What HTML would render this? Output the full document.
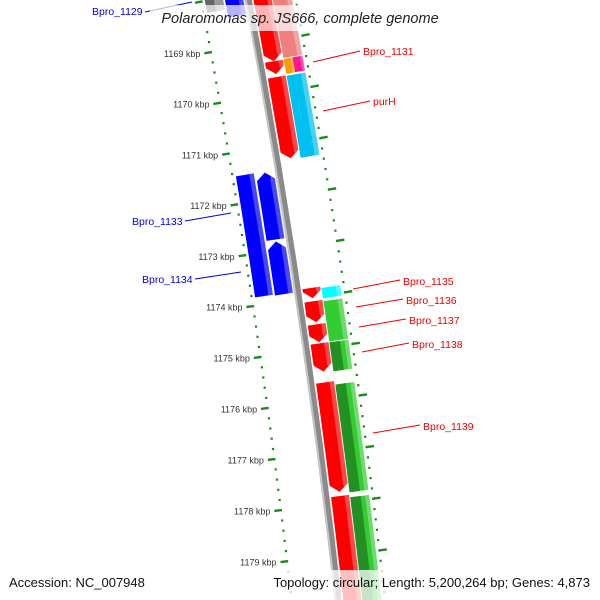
<!DOCTYPE html>
<html><head><meta charset="utf-8"><style>
html,body{margin:0;padding:0;background:#fff;width:600px;height:600px;overflow:hidden;}
svg{display:block;overflow:hidden;}
text{font-family:"Liberation Sans",sans-serif;}
</style></head><body>
<svg id="map" width="600" height="600" viewBox="0 0 600 600" xmlns="http://www.w3.org/2000/svg">
<g id="ticks"></g>
<g id="backbone"></g>
<g id="features"></g>
<g id="labels"></g>
<rect x="150" y="5" width="300" height="26" fill="rgba(255,255,255,0.7)"/>
<text x="300" y="23" text-anchor="middle" font-size="14.5" font-style="italic" fill="#222">Polaromonas sp. JS666, complete genome</text>
<rect x="256" y="570" width="344" height="30" fill="rgba(255,255,255,0.75)"/>
<rect x="0" y="570" width="150" height="30" fill="rgba(255,255,255,0.75)"/>
<text x="9" y="587" font-size="13" fill="#111">Accession: NC_007948</text>
<text x="590" y="587" text-anchor="end" font-size="13" fill="#111">Topology: circular; Length: 5,200,264 bp; Genes: 4,873</text>
</svg>
<script>
// feature data (kbp)
const featStart = [1167.6, 1169.39, 1169.70, 1173.82, 1174.08, 1174.53, 1174.90, 1175.66, 1177.87,
                   1167.66, 1169.38, 1169.38, 1169.71, 1173.85, 1174.11, 1174.91, 1175.73, 1177.92,
                   1167.5, 1171.48, 1172.83, 1167.46, 1171.46];
const featEnd   = [1169.39, 1169.64, 1171.29, 1174.02, 1174.49, 1174.88, 1175.45, 1177.79, 1180.4,
                   1169.36, 1169.67, 1169.67, 1171.31, 1174.05, 1174.89, 1175.47, 1177.82, 1180.4,
                   1168.4, 1172.79, 1173.86, 1168.24, 1173.84];
const featRing  = ['p1','p1','p1','p1','p1','p1','p1','p1','p1',
                   'p2','p2a','p2b','p2','p2','p2','p2','p2','p2',
                   'm1','m1','m1','m2','m2'];
const featStrand= [1,1,1,1,1,1,1,1,1, 0,0,0,0,0,0,0,0,0, 0,-1,-1, 0,0];
const featColor = ['red','red','red','red','red','red','red','red','red',
                   'salmon','orange','magenta','cyan','aqua','green','green2','green2','green2',
                   'blue','blue','blue','gray','blue'];
const tickMajor = [1167,1168,1169,1170,1171,1172,1173,1174,1175,1176,1177,1178,1179,1180];
const tickLabels = ['','','1169 kbp','1170 kbp','1171 kbp','1172 kbp','1173 kbp','1174 kbp','1175 kbp','1176 kbp','1177 kbp','1178 kbp','1179 kbp',''];
const labelNames = ['Bpro_1129','Bpro_1133','Bpro_1134','Bpro_1131','purH','Bpro_1135','Bpro_1136','Bpro_1137','Bpro_1138','Bpro_1139'];

const NS='http://www.w3.org/2000/svg';
const P1=[258,52], P2=[300,307], P3=[334,563];
const K1=1169.16, K3=1179.14;
function circ(a,b,c){
  const d=2*(a[0]*(b[1]-c[1])+b[0]*(c[1]-a[1])+c[0]*(a[1]-b[1]));
  const s=p=>p[0]*p[0]+p[1]*p[1];
  const ux=(s(a)*(b[1]-c[1])+s(b)*(c[1]-a[1])+s(c)*(a[1]-b[1]))/d;
  const uy=(s(a)*(c[0]-b[0])+s(b)*(a[0]-c[0])+s(c)*(b[0]-a[0]))/d;
  return [ux,uy];
}
const C=circ(P1,P2,P3);
const R=Math.hypot(P1[0]-C[0],P1[1]-C[1]);
const A1=Math.atan2(P1[1]-C[1],P1[0]-C[0]);
const A3=Math.atan2(P3[1]-C[1],P3[0]-C[0]);
function ang(k){return A1+(k-K1)*(A3-A1)/(K3-K1);}
function pt(k,off){const a=ang(k),r=R+off;return [C[0]+r*Math.cos(a),C[1]+r*Math.sin(a)];}
const rings={p1:[5,23],p2:[24,43],p2a:[24,33],p2b:[33,43],m1:[-23,-5],m2:[-43,-25]};
const colors={red:'#ff0000',salmon:'#f08080',orange:'#ff9900',magenta:'#ff1493',cyan:'#00c0f0',aqua:'#00ffff',green:'#33cc33',blue:'#0000ff',gray:'#666666'};

function arcPoly(k0,k1,r0,r1,strand){
  const head=Math.min(0.14,(k1-k0));
  const pts=[];const n=8;
  let a0=k0,a1=k1;
  if(strand===1)a1=k1-head;
  if(strand===-1)a0=k0+head;
  for(let i=0;i<=n;i++)pts.push(pt(a0+(a1-a0)*i/n,r1));
  if(strand===1)pts.push(pt(k1,(r0+r1)/2));
  for(let i=n;i>=0;i--)pts.push(pt(a0+(a1-a0)*i/n,r0));
  if(strand===-1)pts.push(pt(k0,(r0+r1)/2));
  return pts.map(p=>p[0].toFixed(1)+','+p[1].toFixed(1)).join(' ');
}
function poly(parent,pts,fill,name){
  const e=document.createElementNS(NS,'polygon');
  e.setAttribute('points',pts);e.setAttribute('fill',fill);
  
  
  parent.appendChild(e);return e;
}
const bb=document.getElementById('backbone');
poly(bb,arcPoly(1166,1180.4,-3.5,3.5,0),'#8a8a8a','backbone-ring');
poly(bb,arcPoly(1166,1180.4,-3.5,-1.5,0),'#c4c4c4','backbone-highlight');

const tg=document.getElementById('ticks');
for(let k=1166;k<=1180.01;k+=0.2){
  [-46.5,46.5].forEach(o=>{
    const p=pt(k,o);
    if(p[1]>598) return;
    const r=document.createElementNS(NS,'rect');
    r.setAttribute('x',(p[0]-1).toFixed(1));r.setAttribute('y',(p[1]-1).toFixed(1));
    r.setAttribute('width','2.2');r.setAttribute('height','2.2');r.setAttribute('fill','#1a8a1a');
    
    
    tg.appendChild(r);
  });
}
tickMajor.forEach((k,i)=>{
  [[-46,-53],[46,54]].forEach(o=>{
    const a=pt(k,o[0]),b=pt(k,o[1]);
    if(a[1]>598) return;
    const l=document.createElementNS(NS,'line');
    l.setAttribute('x1',a[0]);l.setAttribute('y1',a[1]);l.setAttribute('x2',b[0]);l.setAttribute('y2',b[1]);
    l.setAttribute('stroke','#1a8a1a');l.setAttribute('stroke-width','2.4');
    
    
    tg.appendChild(l);
  });
  if(!tickLabels[i]) return;
  const p=pt(k,-57);
  const t=document.createElementNS(NS,'text');
  t.setAttribute('x',p[0].toFixed(1));t.setAttribute('y',(p[1]+3).toFixed(1));
  t.setAttribute('text-anchor','end');t.setAttribute('font-size','9');t.setAttribute('fill','#333');
  t.textContent=tickLabels[i];
  
  
  tg.appendChild(t);
});

const fg=document.getElementById('features');
for(let i=0;i<featStart.length;i++){
  const rg=rings[featRing[i]];const c=featColor[i];
  const k0=featStart[i],k1=featEnd[i],s=featStrand[i];
  if(c==='green2'){
    poly(fg,arcPoly(k0,k1,rg[0],rg[1],s),'#33cc33','feature-'+i);
    poly(fg,arcPoly(k0,k1,rg[0],rg[0]+(rg[1]-rg[0])*0.55,s),'#229022','feature-shade-'+i);
    poly(fg,arcPoly(k0,k1,rg[1]-4,rg[1],s),'rgba(255,255,255,0.3)','feature-highlight-'+i);
  } else {
    poly(fg,arcPoly(k0,k1,rg[0],rg[1],s),colors[c],'feature-'+i);
    if(c==='gray') poly(fg,arcPoly(k0,k1,rg[0]+(rg[1]-rg[0])*0.5,rg[1],s),'#999','feature-highlight-'+i);
    else poly(fg,arcPoly(k0,k1,rg[1]-(rg[1]-rg[0])*0.25,rg[1],s),'rgba(255,255,255,0.28)','feature-highlight-'+i);
  }
}

const lg=document.getElementById('labels');
const labX=[92,132,142,363,373,403,406,409,412,423];
const labY=[15,225,283,55,105,285,304,324,348,430];
const lineFrom=[[145,12],[185,221],[195,279],[360,51],[370,101],[400,280],[403,299],[406,319],[409,343],[420,425]];
const lineTo=[[192,2],[231,213],[241,272],[313,62],[323,111],[353,289],[356,307],[359,327],[362,352],[373,433]];
labelNames.forEach((n,i)=>{
  const col=i<3?'#0000dd':'#ee0000';
  const l=document.createElementNS(NS,'line');
  l.setAttribute('x1',lineFrom[i][0]);l.setAttribute('y1',lineFrom[i][1]);
  l.setAttribute('x2',lineTo[i][0]);l.setAttribute('y2',lineTo[i][1]);
  l.setAttribute('stroke',col);l.setAttribute('stroke-width','1');
  
  
  lg.appendChild(l);
  const t=document.createElementNS(NS,'text');
  t.setAttribute('x',labX[i]);t.setAttribute('y',labY[i]);
  t.setAttribute('font-size','10.5');t.setAttribute('fill',col);
  t.textContent=n;
  
  
  lg.appendChild(t);
});
</script>
</body></html>
